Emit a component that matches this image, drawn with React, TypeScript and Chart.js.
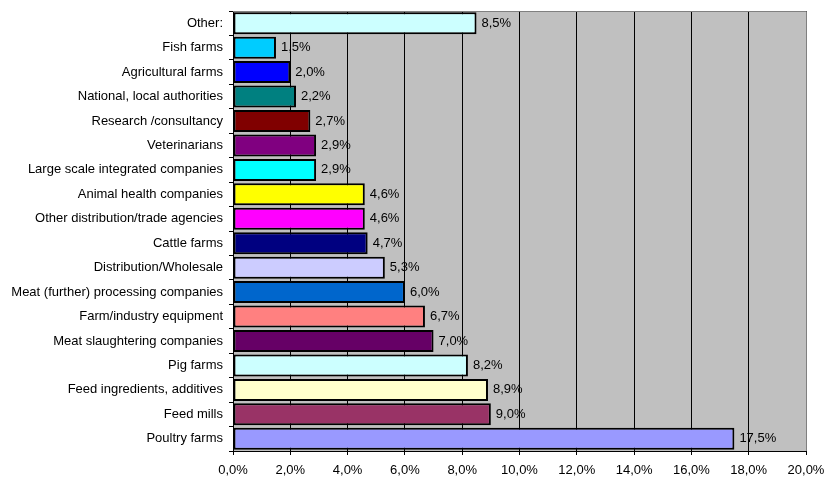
import React, { useEffect, useRef } from "react";
import { Chart, registerables } from "chart.js";

Chart.register(...registerables);

const categories: string[] = [
  "Other:",
  "Fish farms",
  "Agricultural farms",
  "National, local authorities",
  "Research /consultancy",
  "Veterinarians",
  "Large scale integrated companies",
  "Animal health companies",
  "Other distribution/trade agencies",
  "Cattle farms",
  "Distribution/Wholesale",
  "Meat (further) processing companies",
  "Farm/industry equipment",
  "Meat slaughtering companies",
  "Pig farms",
  "Feed ingredients, additives",
  "Feed mills",
  "Poultry farms",
];

const values: number[] = [8.5, 1.5, 2.0, 2.2, 2.7, 2.9, 2.9, 4.6, 4.6, 4.7, 5.3, 6.0, 6.7, 7.0, 8.2, 8.9, 9.0, 17.5];

const barColors: string[] = [
  "#CCFFFF",
  "#00CCFF",
  "#0000FF",
  "#008080",
  "#800000",
  "#800080",
  "#00FFFF",
  "#FFFF00",
  "#FF00FF",
  "#000080",
  "#CCCCFF",
  "#0066CC",
  "#FF8080",
  "#660066",
  "#CCFFFF",
  "#FFFFCC",
  "#993366",
  "#9999FF",
];

const xMin = 0;
const xMax = 20;
const xStep = 2;

const FONT = "'Liberation Sans', Arial, sans-serif";
const fmt = (v: number) => v.toFixed(1).replace(".", ",") + "%";

const plotBg = {
  id: "plotBg",
  beforeDraw(chart: any) {
    const { ctx, chartArea } = chart;
    ctx.save();
    ctx.fillStyle = "#C0C0C0";
    ctx.fillRect(chartArea.left, chartArea.top, chartArea.right - chartArea.left, chartArea.bottom - chartArea.top);
    ctx.restore();
  },
  afterDraw(chart: any) {
    const { ctx, chartArea } = chart;
    ctx.save();
    ctx.strokeStyle = "#808080";
    ctx.lineWidth = 1;
    ctx.beginPath();
    ctx.moveTo(chartArea.left, chartArea.top + 0.5);
    ctx.lineTo(chartArea.right + 0.5, chartArea.top + 0.5);
    ctx.lineTo(chartArea.right + 0.5, chartArea.bottom);
    ctx.stroke();
    ctx.restore();
  },
};

const valueLabels = {
  id: "valueLabels",
  afterDatasetsDraw(chart: any) {
    const { ctx } = chart;
    const meta = chart.getDatasetMeta(0);
    ctx.save();
    ctx.font = `13px ${FONT}`;
    ctx.fillStyle = "#000";
    ctx.textAlign = "left";
    ctx.textBaseline = "middle";
    meta.data.forEach((bar: any, i: number) => {
      ctx.fillText(fmt(values[i]), bar.x + 5, bar.y);
    });
    ctx.restore();
  },
};

export default function App() {
  const ref = useRef<HTMLCanvasElement | null>(null);

  useEffect(() => {
    if (!ref.current) return;
    const chart = new Chart(ref.current, {
      type: "bar",
      data: {
        labels: categories,
        datasets: [
          {
            data: values,
            backgroundColor: barColors,
            borderColor: "#000000",
            borderWidth: 2,
            borderSkipped: false,
            barPercentage: 0.9,
            categoryPercentage: 1,
          },
        ],
      },
      options: {
        indexAxis: "y",
        animation: false,
        responsive: false,
        devicePixelRatio: 1,
        layout: { padding: { top: 11, right: 19, left: 0, bottom: 0 } },
        plugins: {
          legend: { display: false },
          tooltip: { enabled: false },
        },
        scales: {
          x: {
            type: "linear",
            min: xMin,
            max: xMax,
            ticks: {
              stepSize: xStep,
              callback: (v: any) => fmt(Number(v)),
              color: "#000",
              font: { family: FONT, size: 13 },
              padding: 8,
            },
            grid: {
              color: "#000",
              lineWidth: 1,
              tickLength: 4,
              drawTicks: true,
            },
            border: { color: "#000", width: 1 },
            afterFit: (s: any) => {
              s.height = 27;
              s.paddingLeft = 0;
              s.paddingRight = 0;
            },
          },
          y: {
            type: "category",
            ticks: {
              color: "#000",
              font: { family: FONT, size: 13 },
              padding: 6,
              autoSkip: false,
            },
            grid: {
              display: true,
              drawOnChartArea: false,
              drawTicks: true,
              offset: true,
              tickLength: 4,
              color: "#000",
            },
            border: { color: "#000", width: 1 },
            afterFit: (s: any) => {
              s.width = 233;
              s.paddingTop = 0;
              s.paddingBottom = 0;
            },
          },
        },
      },
      plugins: [plotBg, valueLabels],
    });
    return () => chart.destroy();
  }, []);

  return (
    <div style={{ position: "fixed", left: 0, top: 0, width: 825, height: 478, background: "#fff" }}>
      <canvas ref={ref} width={825} height={478} style={{ display: "block" }} />
    </div>
  );
}
